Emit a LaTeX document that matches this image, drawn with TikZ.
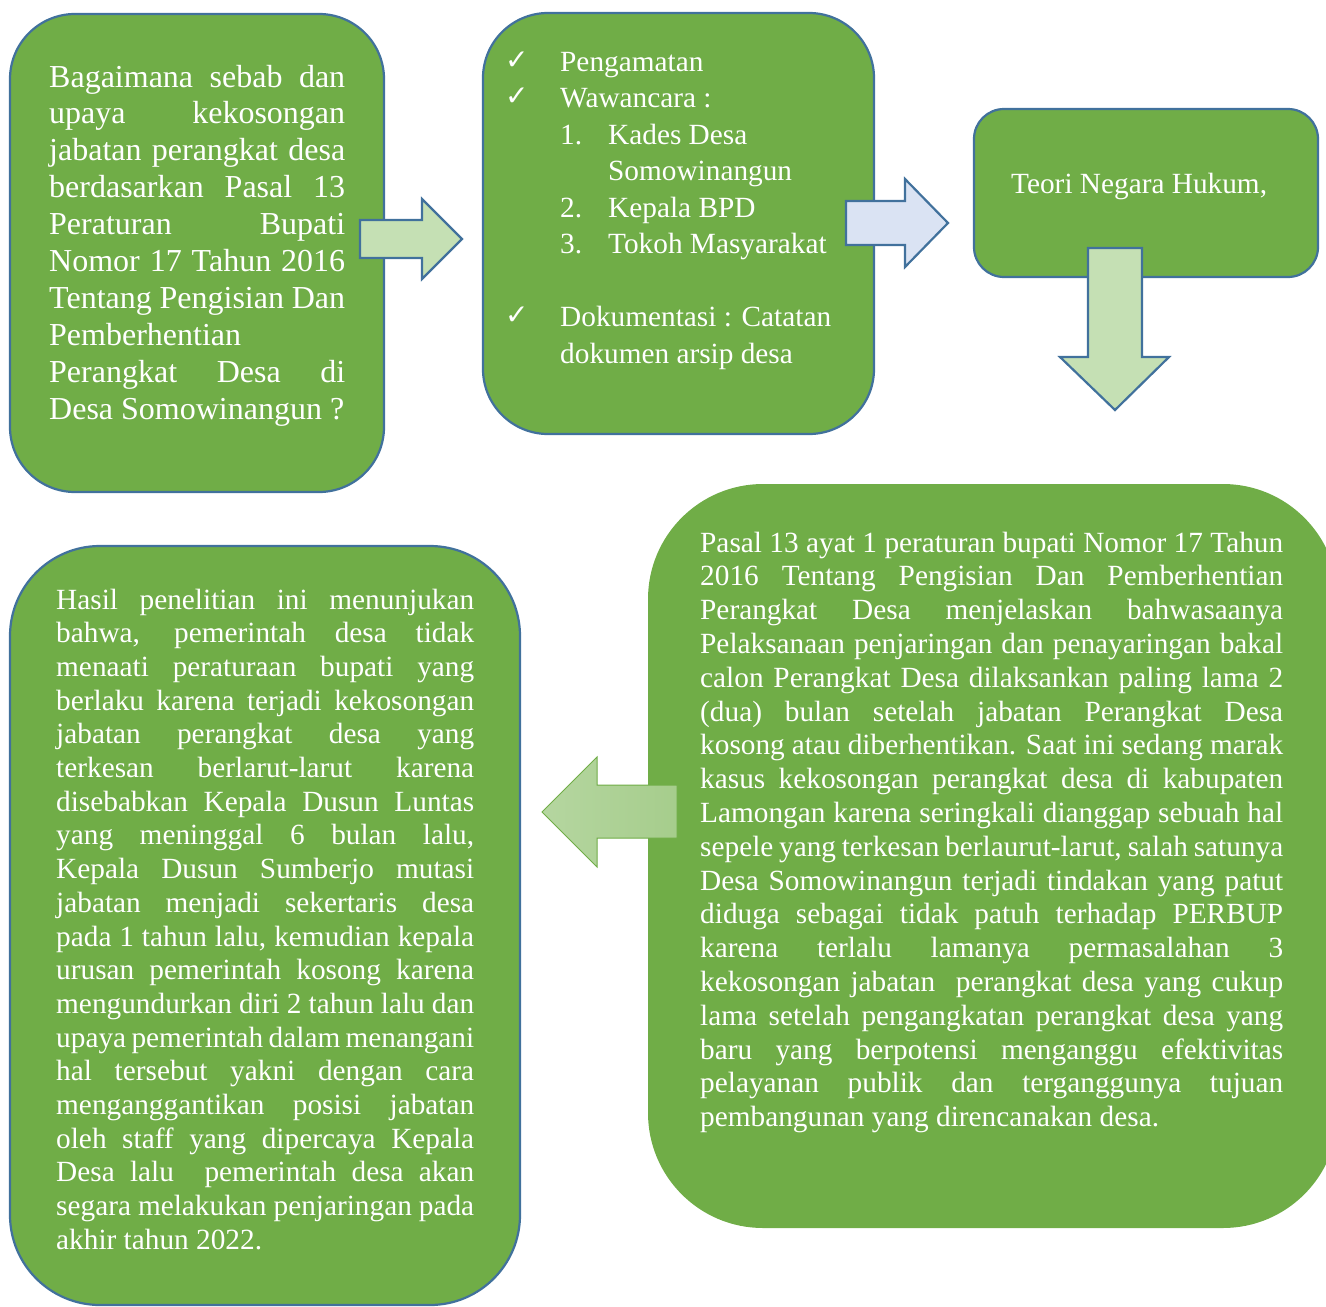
\documentclass[tikz,border=0pt]{standalone}
\usepackage{fontspec}
\setmainfont{Liberation Serif}
\newfontfamily\symfont{DejaVu Sans}
\definecolor{boxgreen}{HTML}{70AD47}
\definecolor{boxblue}{HTML}{41719C}
\definecolor{lightgreen}{HTML}{C5E0B4}
\definecolor{lightblue}{HTML}{DAE3F3}
\definecolor{arrowA}{HTML}{B5D6A0}
\definecolor{arrowB}{HTML}{A6CD8C}
\newcommand\jl[1]{\hbox to\linewidth{#1}}
\newcommand\lastl[1]{\hbox to\linewidth{#1\hfil}}
\newcommand\ck{\makebox[55pt][l]{\raisebox{2pt}{\symfont\fontsize{28}{28}\selectfont ✓}}}
\begin{document}
\begin{tikzpicture}[x=1pt,y=-1pt,
  box/.style={draw=boxblue, line width=2.2pt, fill=boxgreen, rounded corners=#1, inner sep=0pt},
  plainbox/.style={draw=none, fill=boxgreen, rounded corners=#1, inner sep=0pt},
  txt/.style={anchor=base west, inner sep=0pt, text=white},
  blockarrow/.style={draw=boxblue, line width=2.2pt, line join=miter}]
\useasboundingbox (0,0) rectangle (1326,1307);

% boxes
\node[box=65pt, minimum width=374pt, minimum height=478pt] (b1) at (197,253) {};
\node[box=65pt, minimum width=391pt, minimum height=421pt] (b2) at (678.5,223.5) {};
\node[box=30pt, minimum width=344pt, minimum height=168pt] (b3) at (1146,193) {};
\node[plainbox=115pt, minimum width=690pt, minimum height=744pt] (b5) at (993,856) {};
\node[box=90pt, minimum width=510pt, minimum height=759pt] (b6) at (265,925.5) {};

% block arrows
\draw[blockarrow, fill=lightgreen] (360,220) -- (422,220) -- (422,199) -- (462,239) -- (422,279) -- (422,258) -- (360,258) -- cycle;
\draw[blockarrow, fill=lightblue] (846,201) -- (905,201) -- (905,179) -- (948,223) -- (905,267) -- (905,245) -- (846,245) -- cycle;
\draw[blockarrow, fill=lightgreen] (1088,248) -- (1142,248) -- (1142,357) -- (1169,357) -- (1115,410) -- (1060,357) -- (1088,357) -- cycle;
\path[draw=boxgreen, line width=1pt, left color=arrowA, right color=arrowB] (677,785) -- (597,785) -- (597,757) -- (542,812) -- (597,867) -- (597,838) -- (677,838) -- cycle;

% texts
\node[txt] (t1) at (49,87) {\parbox[t]{296pt}{\fontsize{32}{36.9}\selectfont
\jl{Bagaimana sebab dan}
\jl{upaya kekosongan}
\jl{jabatan perangkat desa}
\jl{berdasarkan Pasal 13}
\jl{Peraturan Bupati}
\jl{Nomor 17 Tahun 2016}
\jl{Tentang Pengisian Dan}
\lastl{Pemberhentian}
\jl{Perangkat Desa di}
\lastl{Desa Somowinangun ?}}};

\node[txt] (t2) at (505,71) {\parbox[t]{360pt}{\fontsize{29.3}{36.5}\selectfont
\hbox{\ck Pengamatan}
\hbox{\ck Wawancara :}
\hbox{\hspace{55pt}\makebox[48pt][l]{1.}Kades Desa}
\hbox{\hspace{103pt}Somowinangun}
\hbox{\hspace{55pt}\makebox[48pt][l]{2.}Kepala BPD}
\hbox{\hspace{55pt}\makebox[48pt][l]{3.}Tokoh Masyarakat}
\hbox{}
\hbox{\ck Dokumentasi : Catatan}
\hbox{\hspace{55pt}dokumen arsip desa}}};

\node[txt, font=\fontsize{29.3}{33.7}\selectfont] (t3) at (1011,193) {Teori Negara Hukum,};

\node[txt] (t5) at (700,552) {\parbox[t]{583pt}{\fontsize{29.3}{33.8}\selectfont
\jl{Pasal 13 ayat 1 peraturan bupati Nomor 17 Tahun}
\jl{2016 Tentang Pengisian Dan Pemberhentian}
\jl{Perangkat Desa menjelaskan bahwasaanya}
\jl{Pelaksanaan penjaringan dan penayaringan bakal}
\jl{calon Perangkat Desa dilaksankan paling lama 2}
\jl{(dua) bulan setelah jabatan Perangkat Desa}
\jl{kosong atau diberhentikan. Saat ini sedang marak}
\jl{kasus kekosongan perangkat desa di kabupaten}
\jl{Lamongan karena seringkali dianggap sebuah hal}
\jl{sepele yang terkesan berlaurut-larut, salah satunya}
\jl{Desa Somowinangun terjadi tindakan yang patut}
\jl{diduga sebagai tidak patuh terhadap PERBUP}
\jl{karena terlalu lamanya permasalahan 3}
\jl{kekosongan jabatan\ \ perangkat desa yang cukup}
\jl{lama setelah pengangkatan perangkat desa yang}
\jl{baru yang berpotensi menganggu efektivitas}
\jl{pelayanan publik dan terganggunya tujuan}
\lastl{pembangunan yang direncanakan desa.}}};

\node[txt] (t6) at (56,609) {\parbox[t]{418pt}{\fontsize{29.3}{33.7}\selectfont
\jl{Hasil penelitian ini menunjukan}
\jl{bahwa, pemerintah desa tidak}
\jl{menaati peraturaan bupati yang}
\jl{berlaku karena terjadi kekosongan}
\jl{jabatan perangkat desa yang}
\jl{terkesan berlarut-larut karena}
\jl{disebabkan Kepala Dusun Luntas}
\jl{yang meninggal 6 bulan lalu,}
\jl{Kepala Dusun Sumberjo mutasi}
\jl{jabatan menjadi sekertaris desa}
\jl{pada 1 tahun lalu, kemudian kepala}
\jl{urusan pemerintah kosong karena}
\jl{mengundurkan diri 2 tahun lalu dan}
\jl{upaya pemerintah dalam menangani}
\jl{hal tersebut yakni dengan cara}
\jl{menganggantikan posisi jabatan}
\jl{oleh staff yang dipercaya Kepala}
\jl{Desa lalu\ \ pemerintah desa akan}
\jl{segara melakukan penjaringan pada}
\lastl{akhir tahun 2022.}}};
\end{tikzpicture}
\end{document}
